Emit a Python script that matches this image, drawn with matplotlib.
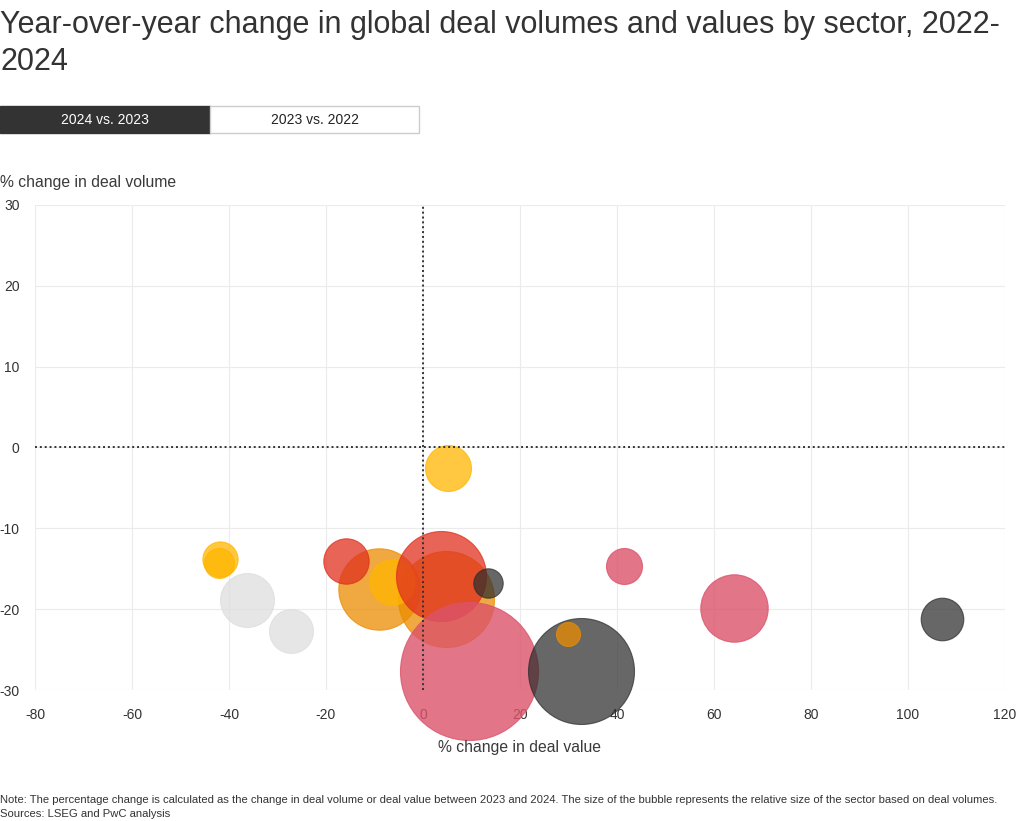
import numpy as np
import matplotlib
matplotlib.use('Agg')
import matplotlib.pyplot as plt
from matplotlib.patches import Rectangle

# datos (2024 vs. 2023)
# cambio % en valor (x), cambio % en volumen (y), tamano relativo (volumen de deals)
valor = [-36.3, -27.2, -41.9, -42.1, 5.2, 4.7, -9.1, -6.3, -15.9, 3.7,
         9.5, 32.5, 29.9, 13.5, 41.4, 64.1, 107.1]
volumen = [-18.9, -22.7, -13.8, -14.3, -2.5, -18.7, -17.5, -16.6, -14.1, -15.9,
           -27.6, -27.7, -23.1, -16.8, -14.6, -19.8, -21.2]
tamano = [729, 484, 310, 225, 529, 2304, 1656, 515, 515, 2025,
          4761, 2809, 144, 216, 324, 1136, 454]
grupo = ['gris', 'gris', 'amarillo', 'amarillo', 'amarillo', 'naranja', 'naranja',
         'amarillo', 'rojo', 'rojo', 'rosa', 'negro', 'naranja', 'negro', 'rosa',
         'rosa', 'negro']

x_ticks = [-80, -60, -40, -20, 0, 20, 40, 60, 80, 100, 120]
y_ticks = [-30, -20, -10, 0, 10, 20, 30]

colores = {'amarillo': '#FFB600', 'naranja': '#EB8C00', 'rojo': '#E0301E',
           'rosa': '#DB536A', 'negro': '#2D2D2D', 'gris': '#DEDEDE'}
alfas = {'amarillo': 0.75, 'naranja': 0.75, 'rojo': 0.75,
         'rosa': 0.8, 'negro': 0.72, 'gris': 0.75}

plt.rcParams['font.family'] = ['Liberation Sans', 'DejaVu Sans']
plt.rcParams['axes.unicode_minus'] = False

W, H = 1020, 821
fig = plt.figure(figsize=(W / 100, H / 100), dpi=100)


def px(x, y):
    # convierte pixeles (desde arriba a la izquierda) a fraccion de figura
    return x / W, 1 - y / H


# titulo
fig.text(*px(0, 33), 'Year-over-year change in global deal volumes and values by sector, 2022-',
         fontsize=22, color='#333333', va='baseline', ha='left')
fig.text(*px(0, 70), '2024', fontsize=22, color='#333333', va='baseline', ha='left')

# botones
x0, y0 = px(0, 133)
fig.add_artist(Rectangle((x0, y0), 210 / W, 27 / H, transform=fig.transFigure,
                         facecolor='#333333', edgecolor='#333333', lw=1))
x1, _ = px(210, 133)
fig.add_artist(Rectangle((x1, y0), 209 / W, 27 / H, transform=fig.transFigure,
                         facecolor='white', edgecolor='#CCCCCC', lw=1))
fig.text(*px(105, 120), '2024 vs. 2023', fontsize=10, color='white', ha='center', va='center')
fig.text(*px(315, 120), '2023 vs. 2022', fontsize=10, color='#222222', ha='center', va='center')

# ejes
l, b = px(35, 690)
r, t = px(1005, 205)
ax = fig.add_axes([l, b, r - l, t - b])
ax.set_xlim(-80, 120)
ax.set_ylim(-30, 30)
ax.set_xticks(x_ticks)
ax.set_yticks(y_ticks)
ax.grid(True, color='#EBEBEB', lw=0.8)
ax.set_axisbelow(True)
for s in ax.spines.values():
    s.set_visible(False)
ax.tick_params(length=0, labelsize=10, labelcolor='#333333')
ax.tick_params(axis='x', pad=13)
ax.tick_params(axis='y', pad=11)

ax.axhline(0, color='#333333', lw=1.4, ls=(0, (1, 1.5)), zorder=30)
ax.axvline(0, color='#333333', lw=1.4, ls=(0, (1, 1.5)), zorder=30)

escala = (2 * 0.72) ** 2
for i in range(len(valor)):
    c = colores[grupo[i]]
    ax.scatter(valor[i], volumen[i], s=tamano[i] * escala, color=c, alpha=alfas[grupo[i]],
               edgecolors=c, linewidths=0.8, zorder=3 + i, clip_on=False)

fig.text(*px(0, 183), '% change in deal volume', fontsize=11.3, color='#3A3A3A',
         ha='left', va='center')
fig.text(*px(520, 747), '% change in deal value', fontsize=11.3, color='#3A3A3A',
         ha='center', va='center')

fig.text(*px(0, 800), 'Note: The percentage change is calculated as the change in deal volume or deal value '
         'between 2023 and 2024. The size of the bubble represents the relative size of the sector based on deal volumes.',
         fontsize=8.1, color='#333333', ha='left', va='center')
fig.text(*px(0, 814), 'Sources: LSEG and PwC analysis', fontsize=8.1, color='#333333',
         ha='left', va='center')

fig.savefig('out.png', dpi=100)
